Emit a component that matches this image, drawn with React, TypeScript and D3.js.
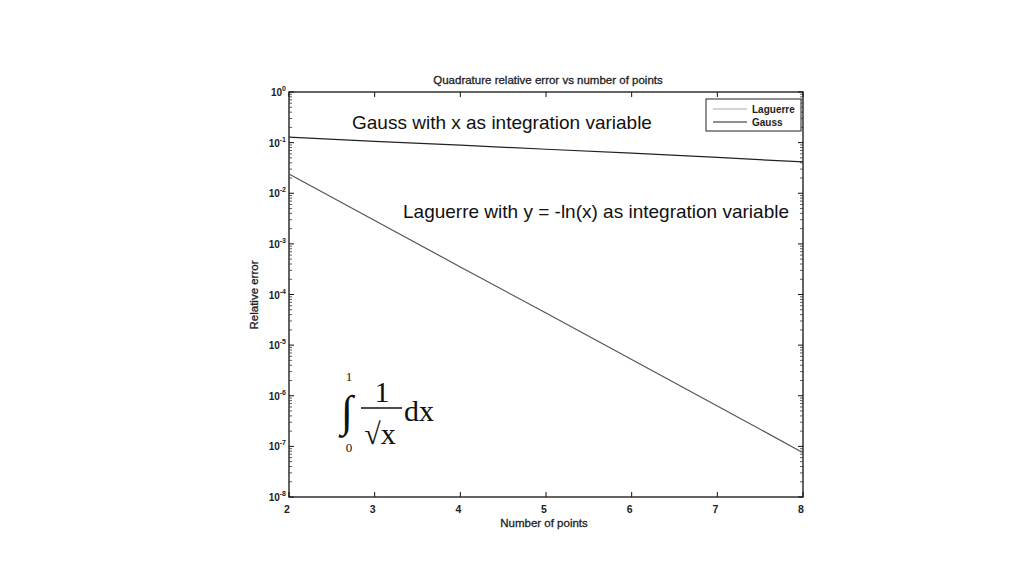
import { useEffect, useRef } from "react";
import * as d3 from "d3";

const points = [2, 3, 4, 5, 6, 7, 8];
const laguerre = [2.4e-2, 2.9e-3, 3.5e-4, 4.3e-5, 5.2e-6, 6.3e-7, 7.5e-8];
const gauss = [0.129, 0.106, 0.089, 0.074, 0.062, 0.051, 0.0415];
const xTicks = [2, 3, 4, 5, 6, 7, 8];
const yExponents = [0, -1, -2, -3, -4, -5, -6, -7, -8];

export default function App() {
  const svgRef = useRef<SVGSVGElement>(null);

  useEffect(() => {
    if (!svgRef.current) return;
    const svg = d3.select(svgRef.current);
    svg.selectAll("*").remove();

    const left = 289, right = 803, top = 92, bottom = 497;
    const x = d3.scaleLinear().domain([2, 8]).range([left, right]);
    const y = d3.scaleLog().domain([1e-8, 1]).range([bottom, top]);

    const g = svg.append("g");
    const sans = "'Liberation Sans', Arial, sans-serif";

    // Frame
    g.append("rect")
      .attr("x", left).attr("y", top)
      .attr("width", right - left).attr("height", bottom - top)
      .attr("fill", "none").attr("stroke", "#111").attr("stroke-width", 1.3);

    // X ticks (bottom & top, inward)
    xTicks.forEach((t) => {
      const px = x(t);
      g.append("line").attr("x1", px).attr("x2", px).attr("y1", bottom).attr("y2", bottom - 5)
        .attr("stroke", "#111");
      g.append("line").attr("x1", px).attr("x2", px).attr("y1", top).attr("y2", top + 5)
        .attr("stroke", "#111");
      g.append("text")
        .attr("x", px - 2).attr("y", bottom + 16)
        .attr("text-anchor", "middle")
        .attr("font-family", sans).attr("font-size", 10.5).attr("font-weight", "bold")
        .attr("fill", "#222")
        .text(t);
    });

    // Y ticks: major + minor log ticks on both sides
    yExponents.forEach((e) => {
      const v = Math.pow(10, e);
      const py = y(v);
      g.append("line").attr("x1", left).attr("x2", left + 5).attr("y1", py).attr("y2", py).attr("stroke", "#111");
      g.append("line").attr("x1", right).attr("x2", right - 5).attr("y1", py).attr("y2", py).attr("stroke", "#111");
      const txt = g.append("text")
        .attr("x", 286).attr("y", py + 4)
        .attr("text-anchor", "end")
        .attr("font-family", sans).attr("font-size", 10).attr("font-weight", "bold")
        .attr("fill", "#222");
      txt.append("tspan").text("10");
      txt.append("tspan").attr("dy", -5).attr("font-size", 7).text(String(e));
      if (e > -8) {
        for (let m = 2; m <= 9; m++) {
          const pm = y(v * m / 10);
          g.append("line").attr("x1", left).attr("x2", left + 3).attr("y1", pm).attr("y2", pm).attr("stroke", "#333").attr("stroke-width", 0.8);
          g.append("line").attr("x1", right).attr("x2", right - 3).attr("y1", pm).attr("y2", pm).attr("stroke", "#333").attr("stroke-width", 0.8);
        }
      }
    });

    // Lines
    const line = d3.line<number>()
      .x((_, i) => x(points[i]))
      .y((d) => y(d));

    g.append("path").datum(laguerre).attr("d", line)
      .attr("fill", "none").attr("stroke", "#555").attr("stroke-width", 1.2);
    g.append("path").datum(gauss).attr("d", line)
      .attr("fill", "none").attr("stroke", "#222").attr("stroke-width", 1.2);

    // Title and axis labels
    const labelStyle = (s: d3.Selection<SVGTextElement, unknown, null, undefined>) =>
      s.attr("font-family", sans).attr("font-size", 11.5).attr("fill", "#222")
        .attr("stroke", "#222").attr("stroke-width", 0.3);
    g.append("text")
      .attr("x", 548).attr("y", 84)
      .attr("text-anchor", "middle")
      .call(labelStyle)
      .text("Quadrature relative error vs number of points");
    g.append("text")
      .attr("x", 544).attr("y", 527)
      .attr("text-anchor", "middle")
      .call(labelStyle)
      .text("Number of points");
    g.append("text")
      .attr("transform", `translate(258, 295) rotate(-90)`)
      .attr("text-anchor", "middle")
      .call(labelStyle)
      .text("Relative error");

    // Legend
    const lg = g.append("g");
    lg.append("rect").attr("x", 706).attr("y", 99).attr("width", 95).attr("height", 32)
      .attr("fill", "#fff").attr("stroke", "#222");
    [["Laguerre", "#aaa", 109], ["Gauss", "#222", 122]].forEach(([label, color, ly]) => {
      lg.append("line").attr("x1", 713).attr("x2", 747).attr("y1", ly as number).attr("y2", ly as number)
        .attr("stroke", color as string).attr("stroke-width", 1.2);
      lg.append("text").attr("x", 752).attr("y", (ly as number) + 4)
        .attr("font-family", sans).attr("font-size", 10).attr("font-weight", "bold").attr("fill", "#222")
        .text(label as string);
    });

    // Annotations
    g.append("text").attr("x", 352).attr("y", 129)
      .attr("font-family", sans).attr("font-size", 19).attr("fill", "#111")
      .text("Gauss with x as integration variable");
    g.append("text").attr("x", 403).attr("y", 218)
      .attr("font-family", sans).attr("font-size", 19).attr("fill", "#111")
      .text("Laguerre with y = -ln(x) as integration variable");

    // Integral formula
    const serif = "'Liberation Serif', 'Times New Roman', serif";
    const f = g.append("g").attr("font-family", serif).attr("fill", "#111");
    f.append("text").attr("x", 349).attr("y", 381).attr("text-anchor", "middle").attr("font-size", 13).text("1");
    f.append("text").attr("x", 349).attr("y", 452).attr("text-anchor", "middle").attr("font-size", 13).text("0");
    f.append("text").attr("x", 347).attr("y", 426).attr("text-anchor", "middle").attr("font-size", 44).text("∫");
    f.append("text").attr("x", 382).attr("y", 402).attr("text-anchor", "middle").attr("font-size", 30).text("1");
    f.append("line").attr("x1", 361).attr("x2", 402).attr("y1", 408).attr("y2", 408).attr("stroke", "#111").attr("stroke-width", 1.4);
    f.append("text").attr("x", 380).attr("y", 444).attr("text-anchor", "middle").attr("font-size", 30).text("√x");
    f.append("text").attr("x", 404).attr("y", 421).attr("font-size", 30).text("dx");
  }, []);

  return (
    <svg
      ref={svgRef}
      width={1024}
      height={576}
      style={{ position: "absolute", left: 0, top: 0, background: "#fff" }}
    />
  );
}
